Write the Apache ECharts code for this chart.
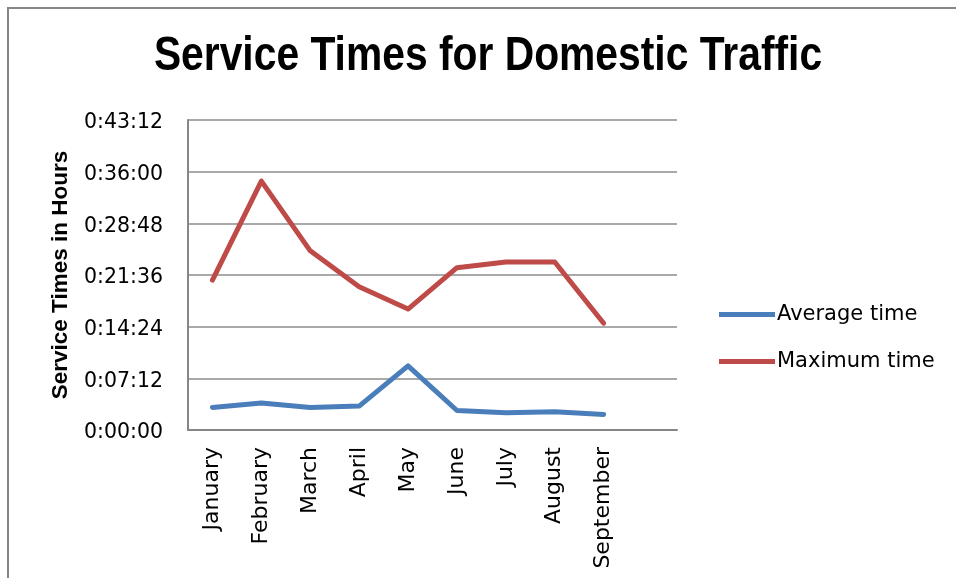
<!DOCTYPE html>
<html>
<head>
<meta charset="utf-8">
<script src="https://cdn.jsdelivr.net/npm/echarts@6/dist/echarts.min.js"></script>
<style>html,body{margin:0;padding:0;background:#fff;}#c{width:956px;height:578px;}</style>
</head>
<body>
<div id="c"></div>
<script>
// Categories (the last slot is an empty category, as in the reference)
const months = ['January','February','March','April','May','June','July','August','September',''];
// Values in seconds
const averageTime = [189, 225, 189, 200, 536, 163, 144, 152, 130];
const maximumTime = [1254, 2081, 1498, 1198, 1011, 1357, 1405, 1405, 893];
const seriesNames = ['Average time', 'Maximum time'];
const titleText = 'Service Times for Domestic Traffic';
const yTickStep = 432; // 0:07:12
const yMax = 2592;     // 0:43:12

function fmt(v) {
  const h = Math.floor(v / 3600);
  const m = Math.floor((v % 3600) / 60);
  const s = Math.round(v % 60);
  return '{t|' + h + ':' + String(m).padStart(2, '0') + ':' + String(s).padStart(2, '0') + '}';
}

const chart = echarts.init(document.getElementById('c'), null, {renderer: 'canvas'});
chart.setOption({
  backgroundColor: '#ffffff',
  animation: false,
  legend: {
    orient: 'vertical',
    left: 714, top: 299,
    itemWidth: 56, itemHeight: 5, itemGap: 26,
    icon: 'rect',
    textStyle: {fontFamily: '"DejaVu Sans", sans-serif', fontSize: 21, color: '#000', padding: [0, 0, 0, -3]},
    data: seriesNames
  },
  grid: {left: 188, right: 279, top: 120, bottom: 148, containLabel: false},
  xAxis: {
    type: 'category',
    data: months,
    boundaryGap: true,
    axisLine: {lineStyle: {color: '#868686', width: 2}},
    axisTick: {show: false},
    axisLabel: {rotate: 90, margin: 17, interval: 0, fontFamily: '"DejaVu Sans", sans-serif', fontSize: 22, color: '#000'}
  },
  yAxis: {
    type: 'value',
    min: 0, max: yMax, interval: yTickStep,
    name: 'Service Times in Hours',
    nameLocation: 'middle', nameGap: 116,
    nameTextStyle: {fontFamily: '"Liberation Sans", sans-serif', fontWeight: 'bold', fontSize: 22.5, color: '#000'},
    axisLine: {show: true, lineStyle: {color: '#868686', width: 2}},
    axisTick: {show: false},
    splitLine: {lineStyle: {color: '#8c8c8c', width: 1.5}},
    axisLabel: {
      margin: 25, formatter: fmt, color: '#000',
      rich: {t: {fontFamily: '"DejaVu Sans", sans-serif', fontSize: 20.5, color: '#000', padding: [6, 0, 0, 0]}}
    }
  },
  series: [
    {name: seriesNames[0], type: 'line', data: averageTime, symbol: 'none', color: '#4A7EBB', lineStyle: {width: 5, color: '#4A7EBB', cap: 'round', join: 'round'}},
    {name: seriesNames[1], type: 'line', data: maximumTime, symbol: 'none', color: '#BE4B48', lineStyle: {width: 5, color: '#BE4B48', cap: 'round', join: 'round'}}
  ],
  graphic: [
    {type: 'line', shape: {x1: 7, y1: 8, x2: 956, y2: 8}, style: {stroke: '#868686', lineWidth: 2}},
    {type: 'line', shape: {x1: 8, y1: 8, x2: 8, y2: 578}, style: {stroke: '#868686', lineWidth: 2}},
    {type: 'text', x: 488, y: 57, scaleX: 0.85, style: {
      text: titleText, align: 'center', verticalAlign: 'middle',
      font: 'bold 48px "Liberation Sans", sans-serif', fill: '#000'}}
  ]
});
</script>
</body>
</html>
